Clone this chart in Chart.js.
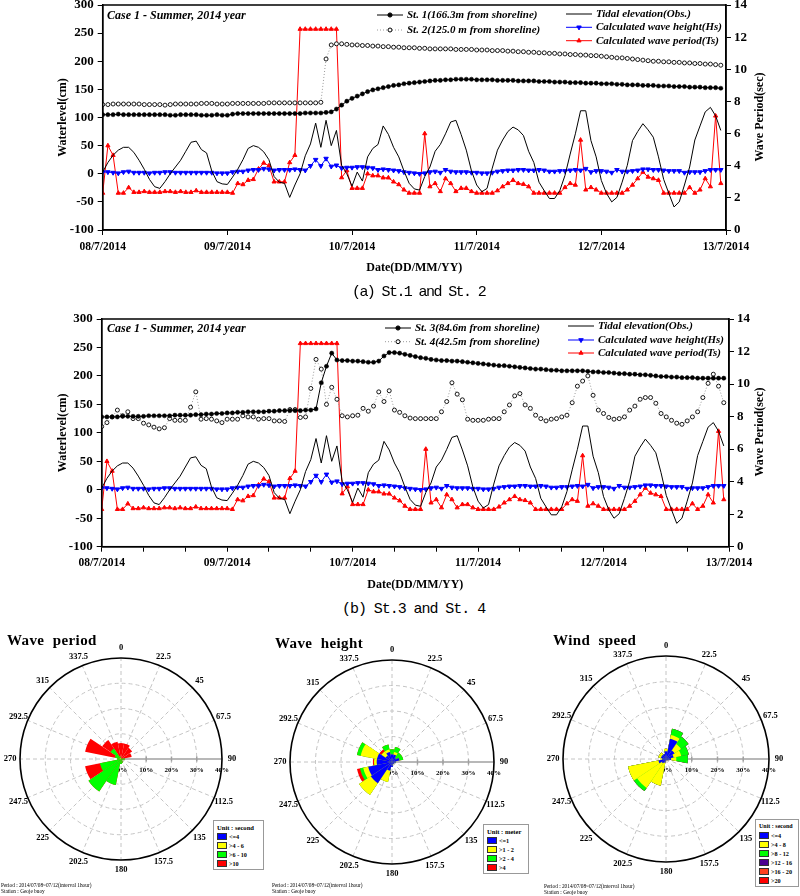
<!DOCTYPE html>
<html>
<head>
<meta charset="utf-8">
<script src="https://cdn.jsdelivr.net/npm/chart.js@4.4.1/dist/chart.umd.min.js"></script>
<style>
  html, body { margin: 0; padding: 0; background: #fff; }
  #page { position: relative; width: 800px; height: 896px; overflow: hidden; }
  canvas { position: absolute; }
  .txt { position: absolute; white-space: nowrap; font-family: "Liberation Serif", serif; color: #000; }
  .cap { font-family: "Liberation Mono", monospace; font-size: 15px; line-height: 16px; }
  .rtitle { font-weight: bold; font-size: 15px; line-height: 16px; letter-spacing: 0.4px; }
  .note { font-size: 5.3px; line-height: 6px; }
  .rleg { position: absolute; border: 1px solid #999; background: #fff; box-sizing: border-box; white-space: nowrap;
          font-family: "Liberation Serif", serif; font-weight: bold; padding: 2px 0 0 3px; }
  .rleg .hd { font-size: 6.6px; line-height: 9px; }
  .rleg .row { font-size: 6.2px; line-height: 9px; }
  .rleg .sw { display: inline-block; width: 8px; height: 5px; border: 0.5px solid #333; margin-right: 2px; vertical-align: -0.5px; }
</style>
</head>
<body>
<div id="page">
  <canvas id="c1" width="800" height="280" style="left:0;top:0"></canvas>
  <canvas id="c2" width="800" height="300" style="left:0;top:300px"></canvas>
  <canvas id="r1" width="265" height="256" style="left:0;top:640px"></canvas>
  <canvas id="r2" width="265" height="256" style="left:265px;top:640px"></canvas>
  <canvas id="r3" width="270" height="256" style="left:530px;top:640px"></canvas>

  <div class="txt cap" style="left:352px;top:285px;letter-spacing:-1.6px">(a) St.1 and St. 2</div>
  <div class="txt cap" style="left:342px;top:602px;letter-spacing:-1.05px">(b) St.3 and St. 4</div>

  <div class="txt rtitle" style="left:7px;top:632px">Wave&nbsp; period</div>
  <div class="txt rtitle" style="left:275px;top:635px">Wave&nbsp; height</div>
  <div class="txt rtitle" style="left:553px;top:632px">Wind&nbsp; speed</div>

  <div class="txt note" style="left:1px;top:882px">Period : 2014/07/08~07/12(interval 1hour)<br>Station : Geoje buoy</div>
  <div class="txt note" style="left:272px;top:882px">Period : 2014/07/08~07/12(interval 1hour)<br>Station : Geoje buoy</div>
  <div class="txt note" style="left:544px;top:883px">Period : 2014/07/08~07/12(interval 1hour)<br>Station : Geoje buoy</div>
</div>

<script>
// ---- time series (hourly, 08/7/2014 00h .. 12/7/2014 23h) ----
const dateLabels = ['08/7/2014', '09/7/2014', '10/7/2014', '11/7/2014', '12/7/2014', '13/7/2014'];
const hours = Array.from({ length: 120 }, (_, i) => i);

const st1 = [
  105,105,105,106,105,105,105,105,105,105,105,105,
  105,104,104,105,105,105,105,104,104,104,105,104,
  104,106,107,107,107,107,107,107,107,107,107,107,
  107,107,107,108,108,108,108,109,110,115,122,129,
  134,138,142,146,149,151,153,155,157,158,160,161,
  162,163,164,165,166,166,167,167,168,168,168,168,
  167,167,167,167,166,166,166,166,165,165,165,165,
  164,164,164,163,163,163,162,162,162,161,161,161,
  160,160,160,159,159,158,158,158,157,157,157,156,
  156,156,155,155,155,154,154,154,153,153,153,152
];
const st2 = [
  123,123,124,124,124,124,124,124,123,123,123,123,
  122,123,124,124,124,124,124,125,125,125,124,124,
  124,125,125,125,125,125,125,125,126,126,126,126,
  126,126,126,126,126,126,127,204,229,231,231,230,
  229,229,228,228,227,227,226,226,225,225,224,224,
  224,223,223,222,222,222,222,222,221,221,221,221,
  220,220,220,219,219,219,218,218,217,217,216,216,
  215,215,214,214,213,213,212,212,211,211,210,210,
  209,208,207,206,206,205,204,203,202,201,200,200,
  199,199,198,198,197,197,196,196,195,195,194,193
];
const st3 = [
  128,128,128,128,129,129,129,129,129,130,130,130,
  130,130,131,131,131,131,132,132,133,133,134,134,
  135,135,136,136,137,137,137,137,138,138,139,139,
  139,139,139,140,140,142,188,217,240,228,227,227,
  226,226,225,224,224,226,235,241,241,240,238,236,
  234,232,231,229,228,227,227,226,226,225,224,223,
  222,221,220,219,218,218,217,216,215,214,213,212,
  212,211,210,210,209,209,209,209,209,208,207,207,
  206,206,205,204,204,203,203,202,202,201,200,199,
  199,198,198,197,197,197,196,196,196,196,196,196
];
const st4 = [
  111,118,128,140,130,137,125,125,117,114,110,107,
  109,125,122,122,122,145,172,124,125,124,121,118,
  124,124,124,130,128,128,124,125,125,121,121,120,
  141,141,127,128,178,229,212,150,180,159,130,128,
  130,131,143,138,147,172,155,174,140,136,130,126,
  125,125,125,125,125,137,155,188,168,158,124,122,
  122,122,124,125,125,137,149,165,169,149,143,131,
  125,121,124,125,128,131,153,182,191,200,166,140,
  134,127,124,125,128,140,147,159,162,162,152,134,
  128,122,117,115,121,128,137,162,187,203,182,153
];
const tide = [
  3,20,33,42,47,47,38,24,8,-10,-23,-26,
  -14,0,12,24,40,56,58,43,37,5,-14,-18,
  -19,-6,8,25,45,50,47,39,25,-5,-15,-17,
  -42,-20,0,32,53,90,47,95,50,77,15,0,
  -22,3,-13,30,45,52,85,70,47,30,5,-17,
  -27,-29,-5,12,40,52,71,92,95,70,42,5,
  -20,-32,-26,10,42,60,75,83,78,68,40,20,
  -15,-30,-44,-44,-30,-3,35,71,112,112,59,30,
  -12,-35,-50,-42,-15,15,59,75,89,78,65,30,
  -10,-35,-59,-50,-20,12,60,85,110,118,103,77
];
const waveHeight = [
  3,3,2,1,3,4,2,2,2,1,2,2,
  3,3,2,2,2,2,2,2,2,2,1,1,
  1,3,4,4,6,7,7,9,8,6,7,7,
  7,8,7,6,14,25,14,27,13,15,10,11,
  11,12,12,11,10,7,8,7,6,5,3,2,
  1,0,1,3,4,2,7,4,3,3,3,2,
  2,1,1,2,4,5,6,6,7,7,6,6,
  7,6,4,4,5,5,6,7,6,9,3,5,
  5,4,2,7,4,4,5,6,8,8,7,7,
  6,5,5,5,2,3,3,3,5,7,7,7
];
const wavePeriod = [
  2.3,5.25,4.65,2.3,2.3,2.64,2.35,2.35,2.4,2.35,2.35,2.35,
  2.4,2.4,2.35,2.4,2.35,2.35,2.45,2.35,2.35,2.35,2.35,2.35,
  2.35,2.3,2.9,2.83,3.1,3.15,3.8,4.17,4.0,3.0,3.0,3.0,
  4.2,4.65,12.5,12.5,12.5,12.5,12.5,12.5,12.5,12.5,3.26,3.7,
  2.6,2.6,2.6,3.5,3.38,3.38,3.25,3.25,3.0,2.83,2.5,2.3,
  2.3,2.3,6.0,2.7,2.9,2.4,3.2,2.9,2.4,2.6,2.6,2.4,
  2.3,2.3,2.3,2.3,2.45,2.7,2.9,3.1,2.9,2.85,2.7,2.3,
  2.3,2.3,2.3,2.3,2.3,2.65,2.9,2.8,5.6,2.5,2.65,2.5,
  2.3,2.3,2.3,2.3,2.3,2.5,2.8,3.2,3.6,3.3,3.2,3.1,
  2.3,2.3,2.3,2.3,2.3,2.65,2.3,2.5,3.2,2.7,7.1,2.9
];

// ---- wind roses (percent per direction, by class) ----
const directions = [0, 22.5, 45, 67.5, 90, 112.5, 135, 157.5, 180, 202.5, 225, 247.5, 270, 292.5, 315, 337.5];
const ringTicks = [0, 10, 20, 30, 40];

const periodClasses = ['<=4', '>4 - 6', '>6 - 10', '>10'];
const periodBlue   = [0,0,0,0,0,0,0,0,0,0,0,0,0,0,0,0];
const periodYellow = [0,0,0,0,0,0,0,0,0,0,0,0,0.5,0.5,0.5,0];
const periodGreen  = [0,0,0,0.5,1.5,1,0.5,1.5,2,10.5,15.5,8.5,1,2,4.5,1];
const periodRed    = [6.3,6.3,5.3,3.8,0,0,0,0,0,0,0,6,0,12,4,6];

const heightClasses = ['<=1', '>1 - 2', '>2 - 4', '>4'];
const heightBlue   = [3,3,2,3,1.5,1,1,1,2,3.5,10,9.5,6,6,3,4];
const heightYellow = [0,1,0,0,0,0,0,0,0,4.5,5.5,2,1,6.5,2,1];
const heightGreen  = [2,2,2.5,1.5,0,0,0,0,0,0,0,1.3,0,1.5,0,2];
const heightRed    = [0,0,0,0,0,0,0,0,0,0,0,1.2,0.5,0,1,0];

const windClasses = ['<=4', '>4 - 8', '>8 - 12', '>12 - 16', '>16 - 20', '>20'];
const windBlue   = [3,8,4,3,2,1,0.5,0.5,0.5,1.5,2,3,1.5,2,2,2];
const windYellow = [1,1.5,3,3,2,0,0,0,0,9,11.5,12,0.5,1,1,0];
const windGreen  = [0,2.5,3.5,3,4.5,0,0,0,0,0,1.5,0,0,0,0,0];
const windPurple = [0,0,0,0,0,0,0,0,0,0,0,0,0,0,0,0];
const windOrange = [0,0,0,0,0,0,0,0,0,0,0,0,0,0,0,0];
const windRed    = [0,0,0,0,0,0,0,0,0,0,0,0,0,0,0,0];

const SERIF = '"Liberation Serif", "Times New Roman", serif';

// frame, legend, case text and right axis title for the time series
const plotDecor = {
  id: 'plotDecor',
  afterDraw(chart, args, o) {
    const { ctx, chartArea: a } = chart;
    ctx.save();
    ctx.strokeStyle = '#000';
    ctx.lineWidth = 1.5;
    ctx.strokeRect(a.left, a.top, a.right - a.left, a.bottom - a.top);

    ctx.fillStyle = '#000';
    ctx.textBaseline = 'middle';
    ctx.textAlign = 'left';
    ctx.font = 'italic bold 12px ' + SERIF;
    ctx.fillText(o.caseText, o.caseX, o.caseY);

    o.legend.forEach((it) => {
      const ds = chart.data.datasets[it.index];
      ctx.save();
      ctx.strokeStyle = ds.borderColor;
      ctx.lineWidth = 1;
      ctx.setLineDash(ds.borderDash || []);
      ctx.beginPath();
      ctx.moveTo(it.x, it.y);
      ctx.lineTo(it.x + 26, it.y);
      ctx.stroke();
      ctx.setLineDash([]);
      if (ds.pointRadius > 0) {
        ctx.fillStyle = ds.pointBackgroundColor;
        ctx.strokeStyle = ds.pointBorderColor;
        Chart.helpers.drawPoint(ctx, {
          pointStyle: ds.pointStyle, rotation: ds.pointRotation || 0,
          radius: ds.pointRadius, borderWidth: ds.pointBorderWidth || 1
        }, it.x + 13, it.y);
      }
      ctx.restore();
      ctx.fillStyle = '#000';
      ctx.font = 'italic bold 11px ' + SERIF;
      ctx.fillText(ds.label, it.x + 30, it.y);
    });

    ctx.translate(o.rightTitleX, o.rightTitleY);
    ctx.rotate(-Math.PI / 2);
    ctx.textAlign = 'center';
    ctx.font = 'bold 12px ' + SERIF;
    ctx.fillText('Wave Period(sec)', 0, 0);
    ctx.restore();
  }
};

function tsChart(id, cfg) {
  const tickFont = { family: SERIF, weight: 'bold', size: 13 };
  const titleFont = { family: SERIF, weight: 'bold', size: 12 };
  const axisBlack = { color: '#000', width: 1.5 };
  const tickGrid = { drawOnChartArea: false, drawTicks: true, tickLength: 5, color: '#000', lineWidth: 1 };
  return new Chart(document.getElementById(id), {
    type: 'line',
    data: {
      labels: hours,
      datasets: [
        { label: cfg.names[0], data: cfg.near, borderColor: '#000', borderWidth: 1,
          pointRadius: 2.1, pointStyle: 'circle', pointBackgroundColor: '#000', pointBorderColor: '#000', pointBorderWidth: 0.5 },
        { label: cfg.names[1], data: cfg.far, borderColor: '#9a9a9a', borderWidth: 1, borderDash: [1, 2],
          pointRadius: 2, pointStyle: 'circle', pointBackgroundColor: '#fff', pointBorderColor: '#000', pointBorderWidth: 0.9 },
        { label: 'Tidal elevation(Obs.)', data: tide, borderColor: '#000', borderWidth: 1, pointRadius: 0 },
        { label: 'Calculated wave height(Hs)', data: waveHeight, borderColor: '#0000ff', borderWidth: 1,
          pointRadius: 2.6, pointStyle: 'triangle', pointRotation: 180, pointBackgroundColor: '#0000ff', pointBorderColor: '#0000ff' },
        { label: 'Calculated wave period(Ts)', data: wavePeriod, yAxisID: 'y2', borderColor: '#ff0000', borderWidth: 1,
          pointRadius: 2.4, pointStyle: 'triangle', pointBackgroundColor: '#ff0000', pointBorderColor: '#ff0000' }
      ]
    },
    options: {
      responsive: false,
      animation: false,
      layout: { padding: { top: cfg.top, left: 0, right: 0, bottom: 0 } },
      elements: { line: { tension: 0 } },
      plugins: {
        legend: { display: false },
        tooltip: { enabled: false },
        plotDecor: cfg.decor
      },
      scales: {
        x: {
          type: 'linear', min: 0, max: 120,
          ticks: {
            stepSize: cfg.xStep, autoSkip: false, maxRotation: 0, color: '#000', padding: cfg.xTickPad,
            font: { family: SERIF, weight: 'bold', size: 11.5 },
            callback: (v) => (v % 24 === 0 ? dateLabels[v / 24] : '')
          },
          grid: tickGrid,
          border: axisBlack,
          title: { display: true, text: 'Date(DD/MM/YY)', color: '#000', font: titleFont,
                   padding: { top: 0, bottom: cfg.xTitlePad } },
          afterFit: (s) => { s.height = cfg.xHeight; }
        },
        y: {
          position: 'left', min: -100, max: 300,
          ticks: { stepSize: 50, color: '#000', font: tickFont, padding: 4 },
          grid: tickGrid,
          border: axisBlack,
          title: { display: true, text: 'Waterlevel(cm)', color: '#000', font: titleFont,
                   padding: { top: 55.8, bottom: 0 } },
          afterFit: (s) => { s.width = cfg.left; s.paddingTop = 0; s.paddingBottom = 0; }
        },
        y2: {
          position: 'right', min: 0, max: 14,
          ticks: { stepSize: 2, color: '#000', font: tickFont, padding: 3 },
          grid: tickGrid,
          border: axisBlack,
          afterFit: (s) => { s.width = cfg.right; s.paddingTop = 0; s.paddingBottom = 0; }
        }
      }
    },
    plugins: [plotDecor]
  });
}

tsChart('c1', {
  names: ['St. 1(166.3m from shoreline)', 'St. 2(125.0 m from shoreline)'],
  near: st1, far: st2,
  top: 4, left: 102.7, right: 74, xHeight: 50, xStep: 24, xTickPad: 5.2, xTitlePad: 4.8,
  decor: {
    caseText: 'Case 1 - Summer, 2014 year', caseX: 107, caseY: 16,
    rightTitleX: 760, rightTitleY: 117,
    legend: [
      { index: 0, x: 377, y: 15 }, { index: 1, x: 377, y: 30 },
      { index: 2, x: 566, y: 14 }, { index: 3, x: 566, y: 27.3 }, { index: 4, x: 566, y: 40.7 }
    ]
  }
});

tsChart('c2', {
  names: ['St. 3(84.6m from shoreline)', 'St. 4(42.5m from shoreline)'],
  near: st3, far: st4,
  top: 19, left: 101.7, right: 71, xHeight: 53.3, xStep: 8, xTickPad: 4.5, xTitlePad: 7.8,
  decor: {
    caseText: 'Case 1 - Summer, 2014 year', caseX: 107, caseY: 29,
    rightTitleX: 760, rightTitleY: 132,
    legend: [
      { index: 0, x: 385, y: 28 }, { index: 1, x: 385, y: 41.7 },
      { index: 2, x: 568, y: 26 }, { index: 3, x: 568, y: 40 }, { index: 4, x: 568, y: 53 }
    ]
  }
});

// ---- wind roses ----
const roseDecor = {
  id: 'roseDecor',
  beforeDatasetsDraw(chart) {
    const r = chart.scales.r;
    const { ctx } = chart;
    const cx = r.xCenter, cy = r.yCenter, R = r.drawingArea;
    ctx.save();
    ctx.strokeStyle = '#c4c4c4';
    ctx.lineWidth = 1;
    ctx.setLineDash([4, 3]);
    ringTicks.forEach((v) => {
      if (v <= 0 || v >= 40) return;
      ctx.beginPath();
      ctx.arc(cx, cy, r.getDistanceFromCenterForValue(v), 0, Math.PI * 2);
      ctx.stroke();
    });
    directions.forEach((deg) => {
      if (deg === 90) return;
      const a = deg * Math.PI / 180;
      ctx.beginPath();
      ctx.moveTo(cx, cy);
      ctx.lineTo(cx + R * Math.sin(a), cy - R * Math.cos(a));
      ctx.stroke();
    });
    ctx.setLineDash([]);
    ctx.strokeStyle = '#a0a0a0';
    ctx.lineWidth = 1.5;
    ctx.beginPath();
    ctx.moveTo(cx, cy);
    ctx.lineTo(cx + R, cy);
    ctx.stroke();
    ctx.fillStyle = '#000';
    ctx.font = 'bold 7px ' + SERIF;
    ctx.textAlign = 'center';
    ctx.textBaseline = 'middle';
    ringTicks.forEach((v) => {
      const d = r.getDistanceFromCenterForValue(v);
      if (v > 0 && v < 40) {
        ctx.beginPath();
        ctx.moveTo(cx + d, cy - 2.5);
        ctx.lineTo(cx + d, cy + 2.5);
        ctx.stroke();
      }
      ctx.fillText(v + '%', cx + d + (v === 0 ? 1 : 0), cy + 11.5);
    });
    ctx.restore();
  },
  afterDatasetsDraw(chart) {
    const r = chart.scales.r;
    const { ctx } = chart;
    const cx = r.xCenter, cy = r.yCenter, R = r.drawingArea;
    ctx.save();
    ctx.strokeStyle = '#000';
    ctx.lineWidth = 1.6;
    ctx.beginPath();
    ctx.arc(cx, cy, R, 0, Math.PI * 2);
    ctx.stroke();
    ctx.fillStyle = '#000';
    ctx.font = 'bold 8.5px ' + SERIF;
    ctx.textAlign = 'center';
    ctx.textBaseline = 'middle';
    directions.forEach((deg) => {
      const a = deg * Math.PI / 180;
      ctx.fillText(String(deg), cx + (R + 10) * Math.sin(a), cy - (R + 10) * Math.cos(a));
    });
    ctx.restore();
  }
};

function stack(classes) {
  let run = directions.map(() => 0);
  return classes.map((c) => (run = run.map((v, i) => v + c[i])));
}

function roseChart(id, classes, colors, cx, cy, R) {
  const cv = document.getElementById(id);
  const W = cv.width, H = cv.height;
  const cum = stack(classes);
  return new Chart(cv, {
    type: 'polarArea',
    data: {
      labels: directions.map(String),
      datasets: cum.map((d, k) => ({ data: d, backgroundColor: colors[k], borderWidth: 0 }))
    },
    options: {
      responsive: false,
      animation: false,
      layout: { padding: { left: cx - R, top: cy - R, right: W - cx - R, bottom: H - cy - R } },
      plugins: { legend: { display: false }, tooltip: { enabled: false } },
      scales: {
        r: {
          min: 0, max: 40, startAngle: -11.25,
          ticks: { display: false, stepSize: 10 },
          grid: { display: false },
          angleLines: { display: false },
          pointLabels: { display: false }
        }
      }
    },
    plugins: [roseDecor]
  });
}

function roseLegend(left, top, width, unit, names, colors, hdSize) {
  const box = document.createElement('div');
  box.className = 'rleg';
  box.style.left = left + 'px';
  box.style.top = top + 'px';
  box.style.width = width + 'px';
  box.style.height = (5 + 9 * (names.length + 1)) + 'px';
  let html = '<div class="hd" style="font-size:' + hdSize + 'px">Unit : ' + unit + '</div>';
  names.forEach((n, i) => {
    html += '<div class="row"><span class="sw" style="background:' + colors[i] + '"></span>' +
      n.replace(/</g, '&lt;').replace(/>/g, '&gt;') + '</div>';
  });
  box.innerHTML = html;
  document.getElementById('page').appendChild(box);
}

const c4 = ['#0000ff', '#ffff00', '#00ff00', '#ff0000'];
const c6 = ['#0000ff', '#ffff00', '#00ff00', '#4b0090', '#ff4020', '#ff0000'];

roseChart('r1', [periodBlue, periodYellow, periodGreen, periodRed], c4, 121.7, 119.3, 101);
roseChart('r2', [heightBlue, heightYellow, heightGreen, heightRed], c4, 127.7, 122.3, 102);
roseChart('r3', [windBlue, windYellow, windGreen, windPurple, windOrange, windRed], c6, 136, 119.3, 103.5);

roseLegend(213, 820, 51, 'second', periodClasses, c4, 6.6);
roseLegend(483, 824, 46, 'meter', heightClasses, c4, 6.6);
roseLegend(755, 819, 44, 'second', windClasses, c6, 6);
</script>
</body>
</html>
